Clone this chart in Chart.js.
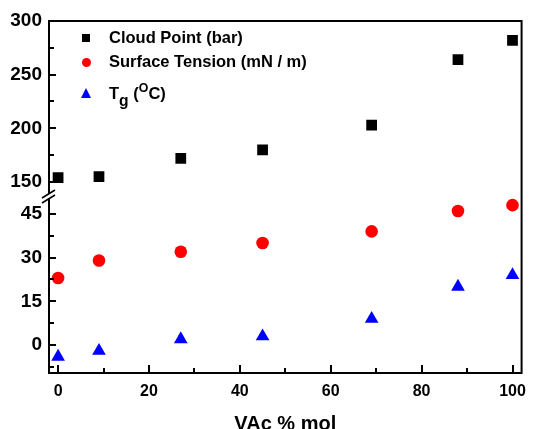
<!DOCTYPE html>
<html>
<head>
<meta charset="utf-8">
<script src="https://cdn.jsdelivr.net/npm/chart.js@4.4.1/dist/chart.umd.min.js"></script>
<style>
  html, body { margin: 0; padding: 0; background: #fff; }
  #wrap { position: relative; width: 535px; height: 429px; overflow: hidden; }
  .leg { position: absolute; left: 80px; font: bold 16.5px "Liberation Sans", Arial, sans-serif; color: #000; white-space: nowrap; line-height: 1; }
  .leg .mk { position: absolute; left: 0; }
  .leg .tx { position: absolute; left: 29px; }
  .sq { width: 8px; height: 8px; background: #000; top: -4px; left: 2px !important; }
  .ci { width: 9px; height: 9px; border-radius: 50%; background: #f00; top: -4px; left: 2px !important; }
  .tr { width: 0; height: 0; border-left: 5.5px solid transparent; border-right: 5.5px solid transparent; border-bottom: 10px solid #00f; top: -6px; left: 1px !important; }
  sub { font-size: 0.95em; vertical-align: -0.45em; }
  sup { font-size: 0.75em; vertical-align: 0.55em; }
</style>
</head>
<body>
<div id="wrap">
  <canvas id="chart" width="535" height="429"></canvas>
  <div class="leg" style="top:38px"><span class="mk sq"></span><span class="tx" style="top:-9px">Cloud Point (bar)</span></div>
  <div class="leg" style="top:62px"><span class="mk ci"></span><span class="tx" style="top:-9px">Surface Tension (mN / m)</span></div>
  <div class="leg" style="top:94px"><span class="mk tr"></span><span class="tx" style="top:-12px">T<sub>g</sub> (<sup>O</sup>C)</span></div>
</div>
<script>
// VAc content (% mol)
const vac = [0, 9, 27, 45, 69, 88, 100];
const cloudPoint = [154, 155, 172, 180, 203, 264, 282];
const surfaceTension = [23, 29, 32, 35, 39, 46, 48];
const tg = [-4, -2, 2, 3, 9, 20, 24];

const xTicks = [0, 20, 40, 60, 80, 100];
const xMinor = [10, 30, 50, 70, 90];
const upperTicks = [150, 200, 250, 300];
const upperMinor = [175, 225, 275];
const lowerTicks = [0, 15, 30, 45];
const lowerMinor = [-7.5, 7.5, 22.5, 37.5];

const FAMILY = '"Liberation Sans", Arial, sans-serif';

function pts(ys) {
  return vac.map((x, i) => ({ x: x, y: ys[i] }));
}

function fixTicks(vals) {
  return scale => { scale.ticks = vals.map(v => ({ value: v })); };
}

const frame = {
  id: 'frame',
  afterDraw(chart) {
    const { ctx, chartArea: a, scales } = chart;
    ctx.save();
    ctx.strokeStyle = '#000';
    ctx.lineWidth = 2;
    ctx.strokeRect(a.left, a.top, a.right - a.left, a.bottom - a.top);

    const tick = (scale, vals, len) => vals.forEach(v => {
      const p = Math.round(scale.getPixelForValue(v));
      ctx.beginPath();
      if (scale.isHorizontal()) {
        ctx.moveTo(p, a.bottom);
        ctx.lineTo(p, a.bottom - len);
      } else {
        ctx.moveTo(a.left, p);
        ctx.lineTo(a.left + len, p);
      }
      ctx.stroke();
    });
    tick(scales.x, xTicks, 8);
    tick(scales.x, xMinor, 5);
    tick(scales.yUp, upperTicks.filter(v => v < 300), 7);
    tick(scales.yUp, upperMinor, 5);
    tick(scales.yLow, lowerTicks, 7);
    tick(scales.yLow, lowerMinor, 5);

    // axis break
    const yb = scales.yLow.top;
    ctx.fillStyle = '#fff';
    ctx.fillRect(a.left - 3, yb - 3, 6, 5);
    ctx.lineWidth = 1.6;
    ctx.beginPath();
    ctx.moveTo(a.left - 7, yb + 1);
    ctx.lineTo(a.left + 6, yb - 7);
    ctx.moveTo(a.left - 7, yb + 6);
    ctx.lineTo(a.left + 6, yb - 2);
    ctx.stroke();
    ctx.restore();
  }
};

new Chart(document.getElementById('chart'), {
  type: 'scatter',
  data: {
    datasets: [
      {
        label: 'Cloud Point (bar)',
        data: pts(cloudPoint),
        yAxisID: 'yUp',
        pointStyle: 'rect',
        pointRadius: 7.6,
        backgroundColor: '#000',
        borderWidth: 0
      },
      {
        label: 'Surface Tension (mN / m)',
        data: pts(surfaceTension),
        yAxisID: 'yLow',
        pointStyle: 'circle',
        pointRadius: 6.3,
        backgroundColor: '#ff0000',
        borderWidth: 0
      },
      {
        label: 'Tg (oC)',
        data: pts(tg),
        yAxisID: 'yLow',
        pointStyle: 'triangle',
        pointRadius: 7.9,
        backgroundColor: '#0000ff',
        borderWidth: 0
      }
    ]
  },
  options: {
    responsive: false,
    animation: false,
    layout: { padding: { left: 0, right: 7, top: 21, bottom: 0 } },
    plugins: {
      legend: { display: false },
      tooltip: { enabled: false }
    },
    scales: {
      x: {
        type: 'linear',
        min: -2,
        max: 102,
        afterBuildTicks: fixTicks(xTicks),
        afterFit: s => { s.height = 56; },
        grid: { display: false, drawTicks: false },
        border: { display: false },
        ticks: { color: '#000', font: { family: FAMILY, size: 16, weight: 'bold' }, padding: 9 },
        title: {
          display: true,
          text: 'VAc % mol',
          color: '#000',
          font: { family: FAMILY, size: 20, weight: 'bold' },
          padding: { top: 0, bottom: -7 }
        }
      },
      // stacked scales: the one declared last sits on top
      yLow: {
        type: 'linear',
        position: 'left',
        stack: 'v',
        stackWeight: 1,
        min: -9.6,
        max: 50.8,
        afterBuildTicks: fixTicks(lowerTicks),
        afterFit: s => { s.width = 49; },
        grid: { display: false, drawTicks: false },
        border: { display: false },
        ticks: { color: '#000', font: { family: FAMILY, size: 19, weight: 'bold' }, padding: 7 }
      },
      yUp: {
        type: 'linear',
        position: 'left',
        stack: 'v',
        stackWeight: 1,
        min: 136,
        max: 300,
        afterBuildTicks: fixTicks(upperTicks),
        afterFit: s => { s.width = 49; },
        grid: { display: false, drawTicks: false },
        border: { display: false },
        ticks: { color: '#000', font: { family: FAMILY, size: 19, weight: 'bold' }, padding: 7 }
      }
    }
  },
  plugins: [frame]
});
</script>
</body>
</html>
